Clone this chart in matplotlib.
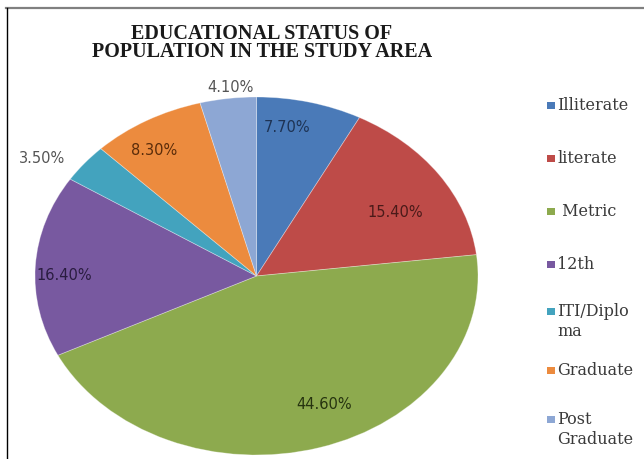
import matplotlib
matplotlib.use("Agg")
import matplotlib.pyplot as plt
import numpy as np
from matplotlib.lines import Line2D
from matplotlib.patches import Rectangle

# Educational status shares (%)
categories = ["Illiterate", "literate", "Metric", "12th", "ITI/Diploma", "Graduate", "Post Graduate"]
shares = [7.70, 15.40, 44.60, 16.40, 3.50, 8.30, 4.10]
legend_labels = ["Illiterate", "literate", " Metric", "12th", "ITI/Diplo\nma", "Graduate", "Post\nGraduate"]

colors = ["#4A7AB8", "#BE4B48", "#8DAA4E", "#7859A0", "#43A3BE", "#EC8B3E", "#8DA7D4"]
label_colors = ["#1E3354", "#4A1A19", "#26330F", "#2A1C40", "#555555", "#5A2C0A", "#555555"]
# radial distance and angular nudge (degrees) of each percentage label
label_dist = [0.84, 0.72, 0.78, 0.87, 1.17, 0.84, 1.06]
label_turn = [4.3, -5.2, 6.6, 3.2, 5.0, 3.8, -1.0]

W, H = 644, 459
fig = plt.figure(figsize=(W / 100, H / 100), dpi=100)
fig.patch.set_facecolor("white")


def fx(px):
    return px / W


def fy(py):
    return 1 - py / H


# pie, stretched horizontally
ax = fig.add_axes([fx(35), fy(455), fx(478) - fx(35), fy(97) - fy(455)])
wedges, _ = ax.pie(shares, colors=colors, startangle=90, counterclock=False,
                   radius=1, wedgeprops=dict(edgecolor=(1, 1, 1, 0.35), linewidth=0.6))
ax.set_aspect("auto")
ax.set_xlim(-1, 1)
ax.set_ylim(-1, 1)
ax.axis("off")

for w, v, d, t, c in zip(wedges, shares, label_dist, label_turn, label_colors):
    mid = np.deg2rad((w.theta1 + w.theta2) / 2 + t)
    ax.text(d * np.cos(mid), d * np.sin(mid), f"{v:.2f}%", ha="center", va="center",
            fontsize=10.5, color=c, family="DejaVu Sans", clip_on=False)

# title
fig.text(fx(262), fy(43), "EDUCATIONAL STATUS OF\nPOPULATION IN THE STUDY AREA",
         ha="center", va="center", fontsize=14.5, fontweight="bold",
         family="Liberation Serif", linespacing=0.82, color="#1a1a1a")

# legend
entry_y = [105, 158, 211, 264, 311, 370, 419]
for lab, col, yc in zip(legend_labels, colors, entry_y):
    fig.add_artist(Rectangle((fx(547), fy(yc + 3.5)), fx(8), 7 / H, transform=fig.transFigure,
                             facecolor=col, edgecolor="none"))
    for i, line in enumerate(lab.split("\n")):
        fig.text(fx(557), fy(yc + 5 + 20 * i), line, ha="left", va="baseline",
                 fontsize=11.5, family="DejaVu Serif", color="#3a3a3a")

# frame
fig.add_artist(Line2D([fx(6), 1], [fy(7.5), fy(7.5)], transform=fig.transFigure,
                      color="#808080", lw=1.6))
fig.add_artist(Line2D([fx(6.5), fx(6.5)], [0, fy(7.5)], transform=fig.transFigure,
                      color="#000000", lw=1.0))

fig.savefig("out.png", dpi=100, facecolor="white")
